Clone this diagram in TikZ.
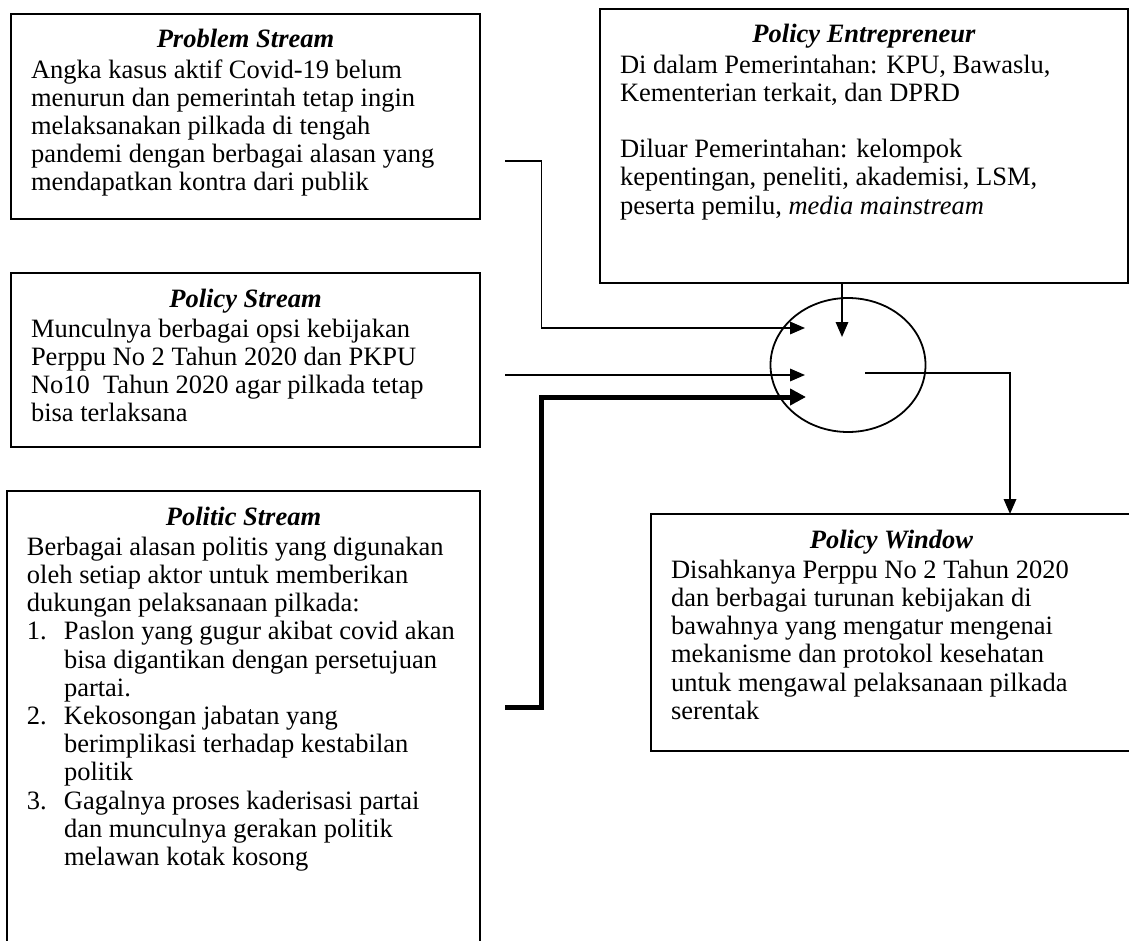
\documentclass[tikz,border=0pt]{standalone}
\usepackage{fontspec}
\setmainfont{Liberation Serif}
\usetikzlibrary{arrows.meta,shapes.geometric}
\newcommand{\boxfont}{\fontsize{26.5pt}{28.2pt}\selectfont}
\newcommand{\boxtitle}[1]{{\centering\bfseries\itshape\rule{0pt}{34pt}#1\par}\vspace{2pt}}
\newcommand{\boxbody}[3]{\parbox[t][#2][t]{#1}{\boxfont\raggedright #3}}
\newcommand{\itemnum}[1]{\makebox[37pt][l]{#1}}
\newcommand{\itemcont}{\hspace*{37pt}}
\begin{document}
\begin{tikzpicture}[x=1pt,y=-1pt,
  stream/.style={draw, line width=1.6pt, anchor=north west, inner xsep=20pt, inner ysep=0pt, outer sep=0pt},
  conn/.style={line width=1.7pt, -{Triangle[length=15pt,width=12.5pt]}},
  thickconn/.style={line width=5pt, line join=miter, -{Triangle[length=16pt,width=16pt]}}]
\path[use as bounding box, clip] (0,0) rectangle (1129,941);

% boxes
\node[stream] (prob) at (11,14) {\boxbody{429pt}{205pt}{\boxtitle{Problem Stream}
Angka kasus aktif Covid-19 belum\\
menurun dan pemerintah tetap ingin\\
melaksanakan pilkada di tengah\\
pandemi dengan berbagai alasan yang\\
mendapatkan kontra dari publik}};

\node[stream] (pol) at (11,273) {\boxbody{429pt}{174pt}{\boxtitle{Policy Stream}
Munculnya berbagai opsi kebijakan\\
Perppu No 2 Tahun 2020 dan PKPU\\
No10\ \ Tahun 2020 agar pilkada tetap\\
bisa terlaksana}};

\node[stream] (polit) at (7,491) {\boxbody{433pt}{500pt}{\boxtitle{Politic Stream}
Berbagai alasan politis yang digunakan\\
oleh setiap aktor untuk memberikan\\
dukungan pelaksanaan pilkada:\\
\itemnum{1.}Paslon yang gugur akibat covid akan\\
\itemcont bisa digantikan dengan persetujuan\\
\itemcont partai.\\
\itemnum{2.}Kekosongan jabatan yang\\
\itemcont berimplikasi terhadap kestabilan\\
\itemcont politik\\
\itemnum{3.}Gagalnya proses kaderisasi partai\\
\itemcont dan munculnya gerakan politik\\
\itemcont melawan kotak kosong}};

\node[stream] (ent) at (600,9) {\boxbody{488pt}{274pt}{\boxtitle{Policy Entrepreneur}
Di dalam Pemerintahan: KPU, Bawaslu,\\
Kementerian terkait, dan DPRD\\[28.2pt]
Diluar Pemerintahan: kelompok\\
kepentingan, peneliti, akademisi, LSM,\\
peserta pemilu, \textit{media mainstream}}};

\node[stream] (win) at (651,514) {\boxbody{441pt}{237pt}{\boxtitle{Policy Window}
Disahkanya Perppu No 2 Tahun 2020\\
dan berbagai turunan kebijakan di\\
bawahnya yang mengatur mengenai\\
mekanisme dan protokol kesehatan\\
untuk mengawal pelaksanaan pilkada\\
serentak}};

% hub
\node[draw, ellipse, line width=1.8pt, minimum width=155pt, minimum height=134pt, inner sep=0pt] (hub) at (848,365) {};

% connector points
\coordinate (pS) at (505,161);
\coordinate (pK) at (541.5,161);
\coordinate (pT) at (805,328);
\coordinate (qS) at (505,375);
\coordinate (qT) at (805,375);
\coordinate (rS) at (505,707);
\coordinate (rK) at (541,707);
\coordinate (rT) at (806,397);
\coordinate (eT) at (842,337);
\coordinate (oS) at (865,373);
\coordinate (oK) at (1010,373);

\draw[conn] (pS) -- (pK) |- (pT);
\draw[conn] (qS) -- (qT);
\draw[thickconn] (rS) -- (rK) |- (rT);
\draw[conn] (ent.south -| eT) -- (eT);
\draw[conn] (oS) -- (oK) -- (oK |- win.north);
\end{tikzpicture}
\end{document}
